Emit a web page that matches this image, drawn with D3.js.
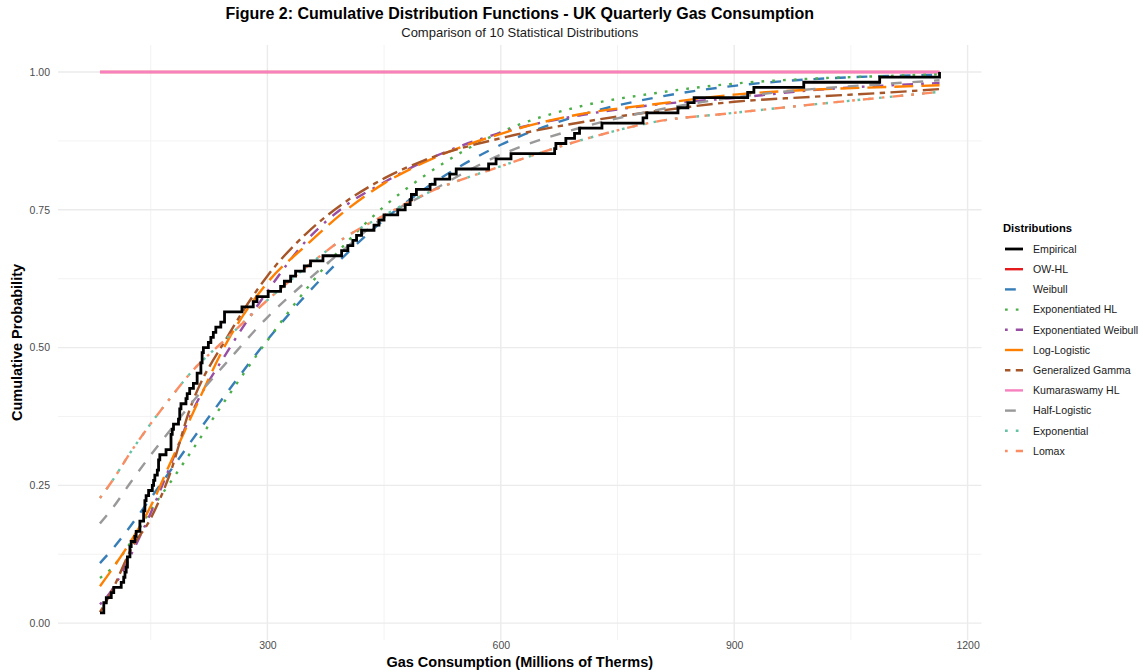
<!DOCTYPE html>
<html>
<head>
<meta charset="utf-8">
<script src="https://cdn.jsdelivr.net/npm/d3@7"></script>
<style>
  body { margin: 0; background: #ffffff; }
  text { font-family: "Liberation Sans", Arial, sans-serif; }
</style>
</head>
<body>
<div id="chart"></div>
<script>
// UK quarterly gas consumption (millions of therms), 1960 Q1 .. 1986 Q4
const gasConsumption = [
  160.1, 129.7, 84.8, 120.1, 160.1, 124.9, 84.8, 116.9, 169.7, 140.9, 89.7, 123.3,
  187.3, 144.1, 92.9, 120.1, 176.1, 147.3, 89.7, 123.3, 185.7, 155.3, 99.3, 131.3,
  200.1, 161.7, 102.5, 136.1, 204.9, 176.1, 112.1, 140.9, 227.3, 195.3, 115.3, 142.5,
  244.9, 214.5, 118.5, 153.7, 244.9, 216.1, 188.9, 142.5, 301.0, 196.9, 136.1, 267.3,
  317.0, 230.5, 152.1, 336.2, 371.4, 240.1, 158.5, 355.4, 449.9, 286.6, 179.3, 403.4,
  491.5, 321.8, 177.7, 409.8, 593.9, 329.8, 176.1, 483.5, 584.3, 395.4, 187.3, 485.1,
  669.2, 421.0, 216.1, 509.1, 827.7, 467.5, 209.7, 542.7, 840.5, 414.6, 217.7, 670.8,
  848.5, 437.0, 209.7, 701.2, 925.3, 443.4, 214.5, 683.6, 917.3, 515.5, 224.1, 694.8,
  989.4, 477.1, 233.7, 730.0, 1087.0, 534.3, 281.8, 787.6, 1163.9, 613.1, 347.4, 782.8,
];

const gridX = [84.8, 100, 125, 150, 175, 200, 250, 300, 350, 400, 450, 500, 600, 700, 800, 900, 1000, 1100, 1163.9];

const cdfOWHL        = [1, 1, 1, 1, 1, 1, 1, 1, 1, 1, 1, 1, 1, 1, 1, 1, 1, 1, 1];
const cdfWeibull     = [0.109, 0.133, 0.178, 0.227, 0.276, 0.326, 0.422, 0.514, 0.596, 0.668, 0.732, 0.786, 0.868, 0.921, 0.954, 0.975, 0.987, 0.993, 0.995];
const cdfExpHL       = [0.082, 0.100, 0.148, 0.205, 0.255, 0.307, 0.413, 0.513, 0.606, 0.688, 0.756, 0.810, 0.891, 0.937, 0.962, 0.979, 0.988, 0.993, 0.996];
const cdfExpWeibull  = [0.034, 0.060, 0.125, 0.200, 0.285, 0.373, 0.496, 0.602, 0.694, 0.757, 0.800, 0.837, 0.890, 0.921, 0.941, 0.953, 0.967, 0.976, 0.980];
const cdfLogLogistic = [0.067, 0.097, 0.150, 0.212, 0.290, 0.368, 0.515, 0.618, 0.686, 0.748, 0.798, 0.835, 0.888, 0.923, 0.942, 0.959, 0.968, 0.973, 0.976];
const cdfGenGamma    = [0.020, 0.058, 0.135, 0.190, 0.272, 0.387, 0.523, 0.630, 0.707, 0.764, 0.807, 0.839, 0.880, 0.908, 0.929, 0.946, 0.955, 0.963, 0.969];
const cdfKumHL       = [1, 1, 1, 1, 1, 1, 1, 1, 1, 1, 1, 1, 1, 1, 1, 1, 1, 1, 1];
const cdfHalfLogistic= [0.181, 0.207, 0.257, 0.305, 0.350, 0.395, 0.477, 0.555, 0.620, 0.680, 0.737, 0.776, 0.850, 0.898, 0.931, 0.954, 0.969, 0.979, 0.985];
const cdfExponential = [0.227, 0.257, 0.312, 0.362, 0.408, 0.452, 0.520, 0.586, 0.646, 0.700, 0.740, 0.777, 0.829, 0.875, 0.910, 0.926, 0.941, 0.955, 0.964];
const cdfLomax       = [0.227, 0.257, 0.312, 0.362, 0.408, 0.452, 0.520, 0.586, 0.646, 0.700, 0.740, 0.777, 0.829, 0.875, 0.910, 0.926, 0.941, 0.955, 0.964];

const xTicks = [300, 600, 900, 1200];
const xMinorTicks = [150, 450, 750, 1050];
const yTicks = [0, 0.25, 0.5, 0.75, 1];
const yMinorTicks = [0.125, 0.375, 0.625, 0.875];

const seriesNames = [
  "Empirical", "OW-HL", "Weibull", "Exponentiated HL", "Exponentiated Weibull",
  "Log-Logistic", "Generalized Gamma", "Kumaraswamy HL", "Half-Logistic", "Exponential", "Lomax",
];
const fittedValues = [
  null, cdfOWHL, cdfWeibull, cdfExpHL, cdfExpWeibull,
  cdfLogLogistic, cdfGenGamma, cdfKumHL, cdfHalfLogistic, cdfExponential, cdfLomax,
];

// ---- styling ----
const width = 1145, height = 672;
const panel = { left: 58, right: 981.5, top: 45, bottom: 640 };
const u = 2.7; // dash unit (R lty digits are multiples of line width)
const styles = {
  "Empirical":             { color: "#000000", dash: null, w: 2.8 },
  "OW-HL":                 { color: "#E41A1C", dash: null, w: 2.4 },
  "Weibull":               { color: "#377EB8", dash: [4, 4], w: 2.4 },
  "Exponentiated HL":      { color: "#4DAF4A", dash: [1, 3], w: 2.4 },
  "Exponentiated Weibull": { color: "#984EA3", dash: [1, 3, 4, 3], w: 2.4 },
  "Log-Logistic":          { color: "#FF7F00", dash: [7, 3], w: 2.4 },
  "Generalized Gamma":     { color: "#A65628", dash: [2, 2, 6, 2], w: 2.4 },
  "Kumaraswamy HL":        { color: "#F781BF", dash: null, w: 2.4 },
  "Half-Logistic":         { color: "#999999", dash: [4, 4], w: 2.4 },
  "Exponential":           { color: "#66C2A5", dash: [1, 3], w: 2.4 },
  "Lomax":                 { color: "#FC8D62", dash: [1, 3, 4, 3], w: 2.4 },
};
const dashString = (s) => (s.dash ? s.dash.map((d) => d * u).join(",") : null);

const svg = d3.select("#chart").append("svg")
  .attr("width", width).attr("height", height)
  .style("background", "#ffffff");

// empirical CDF points (one per distinct value)
const sorted = gasConsumption.slice().sort(d3.ascending);
const n = sorted.length;
const ecdf = [];
sorted.forEach((v, i) => {
  if (i === n - 1 || sorted[i + 1] !== v) ecdf.push([v, (i + 1) / n]);
});

// ggplot-style 5% expansion on both scales
function expand([a, b]) {
  const pad = (b - a) * 0.05;
  return [a - pad, b + pad];
}
const x = d3.scaleLinear()
  .domain(expand(d3.extent(gasConsumption)))
  .range([panel.left, panel.right]);
const y = d3.scaleLinear()
  .domain(expand([d3.min(ecdf, (d) => d[1]), 1]))
  .range([panel.bottom, panel.top]);

// grid
const grid = svg.append("g").attr("class", "grid");
grid.selectAll("line.xminor").data(xMinorTicks).join("line")
  .attr("x1", (d) => x(d)).attr("x2", (d) => x(d))
  .attr("y1", panel.top).attr("y2", panel.bottom)
  .attr("stroke", "#F2F2F2").attr("stroke-width", 0.9);
grid.selectAll("line.yminor").data(yMinorTicks).join("line")
  .attr("x1", panel.left).attr("x2", panel.right)
  .attr("y1", (d) => y(d)).attr("y2", (d) => y(d))
  .attr("stroke", "#F2F2F2").attr("stroke-width", 0.9);
grid.selectAll("line.xmajor").data(xTicks).join("line")
  .attr("x1", (d) => x(d)).attr("x2", (d) => x(d))
  .attr("y1", panel.top).attr("y2", panel.bottom)
  .attr("stroke", "#EBEBEB").attr("stroke-width", 1.4);
grid.selectAll("line.ymajor").data(yTicks).join("line")
  .attr("x1", panel.left).attr("x2", panel.right)
  .attr("y1", (d) => y(d)).attr("y2", (d) => y(d))
  .attr("stroke", "#EBEBEB").attr("stroke-width", 1.4);

// axes (labels only, like theme_minimal)
const xAxis = svg.append("g")
  .attr("transform", `translate(0, ${panel.bottom})`)
  .call(d3.axisBottom(x).tickValues(xTicks).tickSize(0).tickPadding(1.5).tickFormat(d3.format("d")));
const yAxis = svg.append("g")
  .attr("transform", `translate(${panel.left}, 0)`)
  .call(d3.axisLeft(y).tickValues(yTicks).tickSize(0).tickPadding(8).tickFormat(d3.format(".2f")));
[xAxis, yAxis].forEach((a) => {
  a.select(".domain").remove();
  a.selectAll("text").attr("fill", "#4D4D4D").style("font-size", "10.5px")
    .style("font-family", '"Liberation Sans", Arial, sans-serif');
});

// fitted curves
const line = d3.line().x((d) => x(d[0])).y((d) => y(d[1])).curve(d3.curveMonotoneX);
const curves = svg.append("g").attr("class", "curves");
seriesNames.forEach((name, i) => {
  const vals = fittedValues[i];
  if (!vals) return;
  const s = styles[name];
  curves.append("path")
    .datum(gridX.map((gx, j) => [gx, vals[j]]))
    .attr("d", line)
    .attr("fill", "none")
    .attr("stroke", s.color)
    .attr("stroke-width", s.w)
    .attr("stroke-dasharray", dashString(s));
});

// empirical CDF as steps
curves.append("path")
  .datum(ecdf)
  .attr("d", d3.line().x((d) => x(d[0])).y((d) => y(d[1])).curve(d3.curveStepAfter))
  .attr("fill", "none")
  .attr("stroke", styles["Empirical"].color)
  .attr("stroke-width", styles["Empirical"].w);

// titles
const cx = (panel.left + panel.right) / 2;
svg.append("text").attr("x", cx).attr("y", 19).attr("text-anchor", "middle")
  .style("font-size", "16px").style("font-weight", "bold")
  .text("Figure 2: Cumulative Distribution Functions - UK Quarterly Gas Consumption");
svg.append("text").attr("x", cx).attr("y", 37).attr("text-anchor", "middle")
  .style("font-size", "13px").attr("fill", "#1a1a1a")
  .text("Comparison of 10 Statistical Distributions");
svg.append("text").attr("x", cx).attr("y", 667).attr("text-anchor", "middle")
  .style("font-size", "14.5px").style("font-weight", "bold")
  .text("Gas Consumption (Millions of Therms)");
svg.append("text")
  .attr("transform", `translate(22, ${(panel.top + panel.bottom) / 2}) rotate(-90)`)
  .attr("text-anchor", "middle")
  .style("font-size", "14.5px").style("font-weight", "bold")
  .text("Cumulative Probability");

// legend
const legend = svg.append("g").attr("transform", "translate(1003, 0)");
legend.append("text").attr("x", 0).attr("y", 232)
  .style("font-size", "11.2px").style("font-weight", "bold").text("Distributions");
const items = legend.selectAll("g.item").data(seriesNames).join("g")
  .attr("class", "item")
  .attr("transform", (d, i) => `translate(0, ${249 + i * 20.2})`);
items.append("line")
  .attr("x1", 2).attr("x2", 20).attr("y1", 0).attr("y2", 0)
  .attr("stroke", (d) => styles[d].color)
  .attr("stroke-width", (d) => styles[d].w)
  .attr("stroke-dasharray", (d) => dashString(styles[d]));
items.append("text").attr("x", 30).attr("y", 0).attr("dy", "0.35em")
  .style("font-size", "10.6px").attr("fill", "#1a1a1a").text((d) => d);
</script>
</body>
</html>
